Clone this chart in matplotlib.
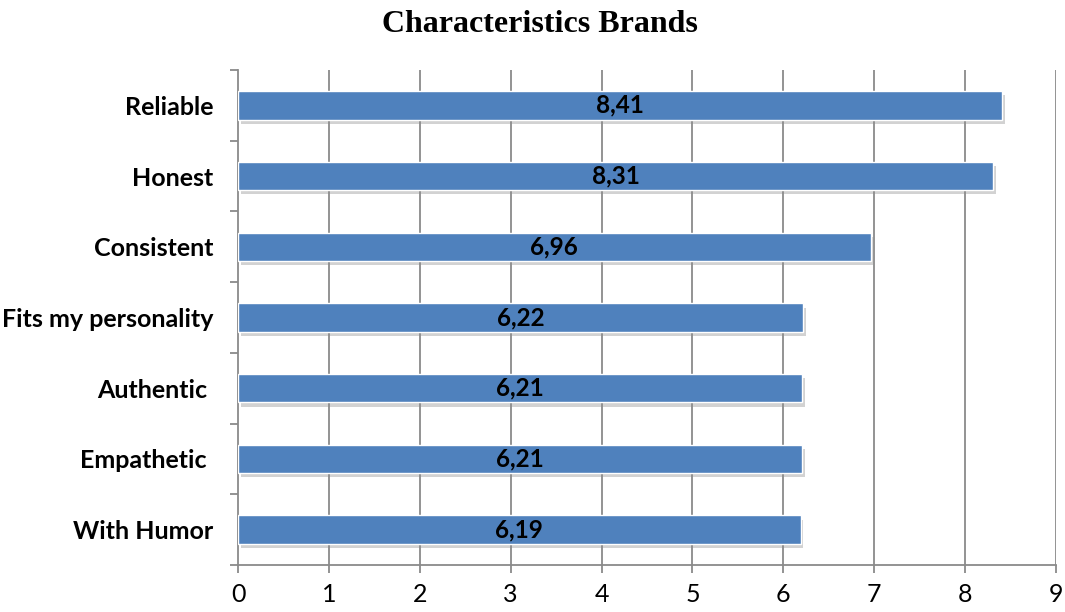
import matplotlib
matplotlib.use('Agg')
import matplotlib.pyplot as plt
import matplotlib.patheffects as pe
import numpy as np

categories = ['Reliable', 'Honest', 'Consistent', 'Fits my personality', 'Authentic ', 'Empathetic ', 'With Humor']
values = [8.41, 8.31, 6.96, 6.22, 6.21, 6.21, 6.19]
value_labels = ['8,41', '8,31', '6,96', '6,22', '6,21', '6,21', '6,19']
x_ticks = [0, 1, 2, 3, 4, 5, 6, 7, 8, 9]

fig = plt.figure(figsize=(10.65, 6.12), dpi=100)
ax = fig.add_axes([0.2235, 0.0768, 0.768, 0.8088])

grey = '#8a8a8a'
ypos = np.arange(len(categories))[::-1]

# gridlines
for xv in x_ticks[1:]:
    ax.axvline(xv, color=grey, lw=1.3, zorder=0)

bars = ax.barh(ypos, values, height=0.4, color='#4f81bd', edgecolor='white', linewidth=1.0, zorder=3)
for b in bars:
    b.set_path_effects([pe.SimplePatchShadow(offset=(2, -3), shadow_rgbFace='#8f8f8f', alpha=0.4), pe.Normal()])

for y, v, lab in zip(ypos, values, value_labels):
    ax.text(v / 2, y, lab, ha='center', va='center', fontsize=17.5, fontweight='bold',
            family='Lato', color='black', zorder=4)

ax.set_xlim(0, 9)
ax.set_ylim(-0.5, len(categories) - 0.5)
ax.set_xticks(x_ticks)
ax.set_xticklabels([str(t) for t in x_ticks], fontsize=18, family='Lato')
ax.set_yticks(ypos)
ax.set_yticklabels(categories, fontsize=18, fontweight='bold', family='Lato')
ax.set_yticks(np.arange(-0.5, len(categories), 1.0), minor=True)
ax.tick_params(axis='y', which='major', length=0, pad=18)
ax.tick_params(axis='y', which='minor', length=6, width=1.3, color=grey)
ax.tick_params(axis='x', length=6, width=1.3, color=grey, pad=7)

for s in ['top', 'right']:
    ax.spines[s].set_visible(False)
for s in ['left', 'bottom']:
    ax.spines[s].set_color(grey)
    ax.spines[s].set_linewidth(1.3)

fig.text(0.507, 0.96, 'Characteristics Brands', ha='center', va='center', fontsize=23,
         fontweight='bold', family='Liberation Serif')

fig.savefig('out.png', dpi=100)
